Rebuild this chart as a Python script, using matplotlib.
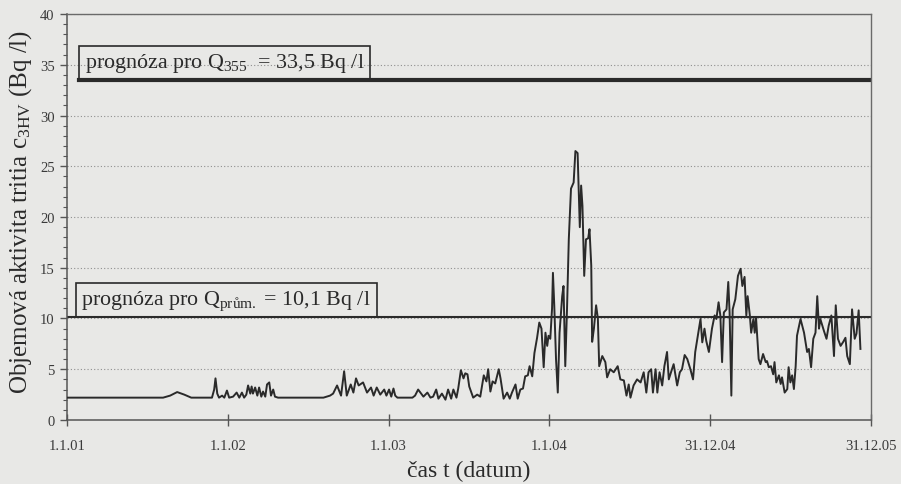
import numpy as np
import matplotlib
matplotlib.use('Agg')
import matplotlib.pyplot as plt
from matplotlib.ticker import MultipleLocator

plt.rcParams['font.family'] = ['Liberation Serif', 'DejaVu Serif']
plt.rcParams['mathtext.fontset'] = 'custom'
plt.rcParams['mathtext.rm'] = 'Liberation Serif'
plt.rcParams['mathtext.it'] = 'Liberation Serif:italic'
plt.rcParams['mathtext.bf'] = 'Liberation Serif:bold'

# dny od 1.1.2001 a objemova aktivita tritia (Bq/l)
den = np.array([
    0, 218, 234, 250, 266, 282, 329, 334, 337, 341, 345, 352, 357, 363, 368, 377,
    385, 391, 397, 402, 407, 411, 416, 419, 422, 427, 432, 436, 441, 445, 450, 454,
    459, 463, 468, 472, 479, 582, 597, 604, 613, 622, 629, 635, 644, 650, 656, 662,
    672, 681, 690, 696, 703, 711, 720, 725, 731, 736, 741, 745, 750, 784, 790, 797,
    809, 818, 825, 831, 838, 843, 851, 859, 865, 872, 877, 884, 888, 894, 900, 904,
    909, 913, 922, 931, 938, 946, 952, 956, 961, 966, 972, 980, 984, 991, 999, 1005,
    1010, 1018, 1023, 1029, 1035, 1040, 1046, 1050, 1056, 1061, 1067, 1072, 1077, 1082, 1086, 1090,
    1093, 1097, 1101, 1103, 1106, 1110, 1114, 1118, 1124, 1127, 1129, 1131, 1135, 1139, 1144, 1150,
    1154, 1159, 1162, 1164, 1167, 1170, 1174, 1178, 1183, 1186, 1190, 1192, 1196, 1201, 1205, 1208,
    1215, 1222, 1226, 1233, 1241, 1250, 1256, 1264, 1270, 1275, 1279, 1286, 1294, 1302, 1309, 1315,
    1320, 1326, 1330, 1336, 1340, 1345, 1351, 1356, 1362, 1366, 1371, 1377, 1385, 1391, 1396, 1402,
    1408, 1415, 1421, 1426, 1432, 1438, 1442, 1447, 1451, 1457, 1464, 1470, 1474, 1479, 1483, 1487,
    1491, 1497, 1501, 1504, 1508, 1511, 1517, 1523, 1529, 1533, 1538, 1542, 1545, 1550, 1553, 1558,
    1561, 1564, 1570, 1574, 1580, 1586, 1589, 1593, 1598, 1603, 1606, 1610, 1616, 1620, 1623, 1629,
    1635, 1638, 1642, 1646, 1650, 1654, 1657, 1665, 1673, 1680, 1684, 1689, 1694, 1699, 1703, 1707,
    1710, 1718, 1724, 1729, 1735, 1741, 1745, 1750, 1756, 1762, 1767, 1771, 1777, 1782, 1788, 1792,
    1797, 1801])
c3hv = np.array([
    2.2, 2.2, 2.4, 2.75, 2.5, 2.2, 2.2, 3.0, 4.1, 2.6, 2.2, 2.4, 2.2, 2.9, 2.2, 2.3,
    2.7, 2.2, 2.7, 2.2, 2.5, 3.4, 2.6, 3.3, 2.6, 3.2, 2.4, 3.2, 2.3, 2.8, 2.3, 3.5,
    3.7, 2.4, 3.0, 2.3, 2.2, 2.2, 2.4, 2.6, 3.4, 2.4, 4.8, 2.4, 3.5, 2.7, 4.1, 3.4,
    3.7, 2.7, 3.2, 2.4, 3.2, 2.5, 3.0, 2.4, 3.0, 2.3, 3.1, 2.4, 2.2, 2.2, 2.4, 3.0,
    2.3, 2.7, 2.2, 2.3, 3.0, 2.1, 2.6, 2.0, 3.0, 2.1, 3.0, 2.2, 3.1, 4.9, 4.1, 4.6,
    4.5, 3.3, 2.2, 2.5, 2.3, 4.4, 3.8, 5.0, 2.8, 3.8, 3.6, 5.0, 4.1, 2.1, 2.7, 2.1,
    2.7, 3.5, 2.1, 3.0, 3.1, 4.3, 4.4, 5.3, 4.3, 6.6, 8.1, 9.6, 9.0, 5.2, 8.6, 7.3,
    8.3, 8.0, 11.0, 14.5, 11.3, 6.0, 2.7, 8.6, 12.2, 13.2, 9.0, 5.3, 11.0, 17.8, 22.8, 23.4,
    26.5, 26.3, 22.0, 19.0, 23.1, 21.1, 14.2, 17.8, 17.9, 18.8, 15.2, 7.7, 9.0, 11.3, 10.0, 5.3,
    6.3, 5.7, 4.2, 5.0, 4.7, 5.3, 4.0, 3.9, 2.4, 3.5, 2.2, 3.4, 4.0, 3.7, 4.7, 2.7,
    4.7, 5.0, 2.7, 5.0, 2.7, 4.7, 3.4, 5.3, 6.7, 4.0, 4.7, 5.5, 3.4, 4.7, 5.0, 6.4,
    6.0, 5.0, 4.0, 6.7, 8.3, 9.95, 7.65, 9.0, 7.8, 6.7, 9.0, 10.3, 9.95, 11.6, 10.3, 5.7,
    10.6, 10.9, 13.6, 10.6, 2.4, 10.9, 11.9, 14.2, 14.9, 13.2, 14.1, 10.3, 12.2, 10.3, 8.6, 9.95,
    8.6, 10.1, 6.0, 5.5, 6.5, 5.7, 5.8, 5.2, 5.3, 4.5, 5.7, 3.7, 4.4, 3.55, 4.2, 2.7,
    3.05, 5.2, 3.7, 4.4, 3.05, 5.3, 8.3, 9.95, 8.6, 6.7, 7.0, 5.2, 8.0, 8.6, 12.2, 9.0,
    9.95, 8.8, 8.0, 9.3, 10.3, 6.3, 11.3, 8.0, 7.3, 7.7, 8.1, 6.3, 5.5, 10.9, 8.0, 8.5,
    10.8, 7.0])

q355 = 33.5
q_prum = 10.1

tick_dates = ['2001-01-01', '2002-01-01', '2003-01-01', '2004-01-01', '2004-12-31', '2005-12-31']
tick_labels = ['1.1.01', '1.1.02', '1.1.03', '1.1.04', '31.12.04', '31.12.05']

bg = '#e8e8e6'
ink = '#2a2a2a'

datum = np.datetime64('2001-01-01') + den.astype('timedelta64[D]')
ticks = np.array(tick_dates, dtype='datetime64[D]')

fig = plt.figure(figsize=(9.01, 4.85), dpi=100, facecolor=bg)
ax = fig.add_axes([0.0744, 0.132, 0.8923, 0.837], facecolor=bg)

ax.plot(datum, c3hv, color=ink, lw=1.4, zorder=3)

# prognozy
ax.axhline(q_prum, color=ink, lw=1.5, zorder=2)
ax.axhline(q355, xmin=0.015, xmax=1.0, color=ink, lw=3, zorder=2)

box = dict(boxstyle='square,pad=0.25', fc='none', ec=ink, lw=1.2)
ax.annotate('prognóza pro Q$_{\\mathrm{355}}$  = 33,5 Bq /l',
            xy=(0.015, q355), xycoords=('axes fraction', 'data'),
            xytext=(4, 4), textcoords='offset points',
            fontsize=15.8, color=ink, va='bottom', ha='left', bbox=box)
ax.annotate('prognóza pro Q$_{\\mathrm{prům.}}$ = 10,1 Bq /l',
            xy=(0.011, q_prum), xycoords=('axes fraction', 'data'),
            xytext=(4, 4), textcoords='offset points',
            fontsize=15.8, color=ink, va='bottom', ha='left', bbox=box)

ax.set_xlim(ticks[0], ticks[-1])
ax.set_ylim(0, 40)
ax.set_xticks(ticks)
ax.set_xticklabels(tick_labels)
ax.yaxis.set_major_locator(MultipleLocator(5))
ax.yaxis.set_minor_locator(MultipleLocator(1))
ax.yaxis.grid(True, linestyle=(0, (1, 2)), color='#8f8f8f', lw=0.8)

ax.tick_params(axis='y', which='major', direction='out', length=5, width=1,
               color='#555555', labelsize=10.5, pad=4, labelcolor='#3a3a3a')
ax.tick_params(axis='y', which='minor', direction='out', length=3, width=0.8,
               color='#555555')
ax.tick_params(axis='x', direction='inout', length=9, width=1, color='#555555',
               labelsize=10.5, pad=9, labelcolor='#3a3a3a')

for side in ['left', 'bottom']:
    ax.spines[side].set_color('#555555')
    ax.spines[side].set_linewidth(1.1)
for side in ['top', 'right']:
    ax.spines[side].set_color('#6a6a6a')
    ax.spines[side].set_linewidth(1.0)

ax.set_ylabel('Objemová aktivita tritia c$_{\\mathrm{3HV}}$ (Bq /l)', fontsize=18, color=ink)
ax.yaxis.set_label_coords(-0.041, 0.516)
ax.set_xlabel('čas t (datum)', fontsize=17, color=ink, labelpad=6)

fig.savefig('out.png', dpi=100, facecolor=bg)
